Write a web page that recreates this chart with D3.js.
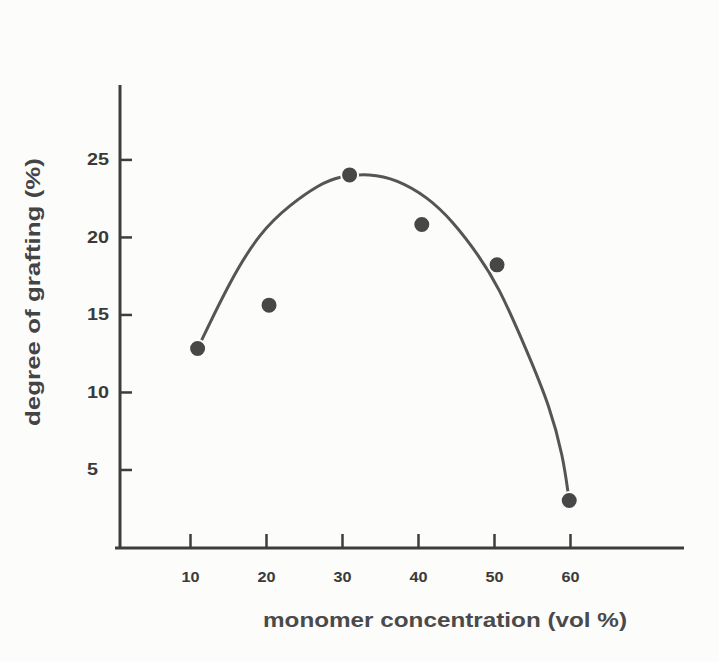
<!DOCTYPE html>
<html lang="en">
<head>
<meta charset="UTF-8">
<title>degree of grafting</title>
<script src="https://cdn.jsdelivr.net/npm/d3@7"></script>
<style>
  body { margin: 0; background: #fcfcfb; }
  svg { display: block; }
  .tick text { font-family: Arial, "Liberation Sans", sans-serif; font-weight: bold; fill: #3a3a3a; }
</style>
</head>
<body>
<script>
    // measured points
    var concentration = [11, 20.4, 31, 40.5, 50.4, 59.9]
    var grafting = [12.8, 15.6, 24.0, 20.8, 18.2, 3.0]
    // hand drawn trend curve
    var curveX = [11.2, 15.3, 19.2, 23.2, 27.1, 29.5, 33.7, 37.2, 41.2, 44.6, 48.0, 50.5, 54.3, 57.4, 59.1, 59.8]
    var curveY = [13.0, 17.2, 20.3, 22.1, 23.4, 23.9, 24.1, 23.7, 22.6, 21.0, 18.8, 16.9, 12.7, 9.0, 5.8, 3.3]
    var xTicks = [10, 20, 30, 40, 50, 60]
    var yTicks = [5, 10, 15, 20, 25]

    var width = 719,
        height = 662,
        ink = '#3d3d3d'

    var svg = d3.select('body')
        .append('svg')
        .attr('width', width)
        .attr('height', height)

    var xScale = d3.scaleLinear()
            .domain([0, 75])
            .range([114, 684])
        yScale = d3.scaleLinear()
            .domain([0, 29.8])
            .range([547, 85])

    // x axis, ticks point up into the plot
    var xAxis = d3.axisTop(xScale)
        .tickValues(xTicks)
        .tickSize(14)
        .tickPadding(0)
    var gx = svg.append('g')
        .attr('transform', 'translate(0, 548)')
        .call(xAxis)
    gx.select('.domain').remove()
    gx.selectAll('.tick line').attr('stroke', ink).attr('stroke-width', 2.5)
    gx.selectAll('.tick text')
        .attr('y', 34)
        .attr('font-size', 15)
        .attr('textLength', d => String(d).length * 9)
        .attr('lengthAdjust', 'spacingAndGlyphs')
    gx.append('line')
        .attr('x1', 115).attr('x2', 684)
        .attr('stroke', ink).attr('stroke-width', 3)

    // y axis, ticks point right into the plot
    var yAxis = d3.axisRight(yScale)
        .tickValues(yTicks)
        .tickSize(12)
    var gy = svg.append('g')
        .attr('transform', 'translate(120, 0)')
        .call(yAxis)
    gy.select('.domain').remove()
    gy.selectAll('.tick line').attr('stroke', ink).attr('stroke-width', 2.5)
    gy.selectAll('.tick text')
        .attr('x', -33)
        .attr('text-anchor', 'start')
        .attr('font-size', 16)
        .attr('textLength', d => String(d).length * 11)
        .attr('lengthAdjust', 'spacingAndGlyphs')
    gy.append('line')
        .attr('y1', 85).attr('y2', 549)
        .attr('stroke', ink).attr('stroke-width', 3)

    // trend curve
    var curveData = curveX.map((x, i) => [x, curveY[i]])
    var line = d3.line()
        .x(d => xScale(d[0]))
        .y(d => yScale(d[1]))
        .curve(d3.curveBasis)
    svg.append('path')
        .attr('d', line(curveData))
        .attr('fill', 'none')
        .attr('stroke', '#555')
        .attr('stroke-width', 3)

    // points
    svg.selectAll('.dot')
        .data(concentration)
        .enter()
        .append('circle')
        .attr('class', 'dot')
        .attr('cx', d => xScale(d))
        .attr('cy', (d, i) => yScale(grafting[i]))
        .attr('r', 8.5)
        .attr('fill', '#474747')
        .attr('stroke', '#fcfcfb')
        .attr('stroke-width', 2)

    // axis titles
    svg.append('text')
        .attr('transform', 'translate(40, 292) rotate(-90)')
        .attr('text-anchor', 'middle')
        .attr('font-family', 'Arial, "Liberation Sans", sans-serif')
        .attr('font-weight', 'bold')
        .attr('font-size', 20)
        .attr('textLength', 268)
        .attr('lengthAdjust', 'spacingAndGlyphs')
        .attr('fill', '#444')
        .text('degree of grafting (%)')

    svg.append('text')
        .attr('x', 445)
        .attr('y', 627)
        .attr('text-anchor', 'middle')
        .attr('font-family', 'Arial, "Liberation Sans", sans-serif')
        .attr('font-size', 20)
        .attr('textLength', 364)
        .attr('lengthAdjust', 'spacingAndGlyphs')
        .attr('fill', '#4a4a4a')
        .style('font-weight', 600)
        .text('monomer concentration (vol %)')
</script>
</body>
</html>
